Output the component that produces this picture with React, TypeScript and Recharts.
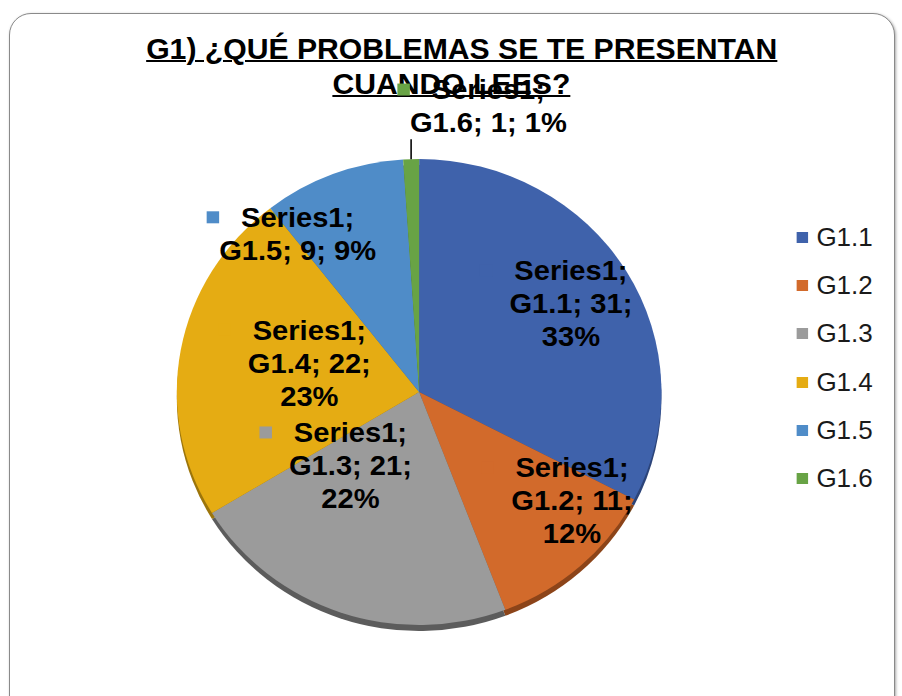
import { PieChart, Pie, Cell, Legend } from "recharts";

const categories = ["G1.1", "G1.2", "G1.3", "G1.4", "G1.5", "G1.6"];
const counts = [31, 11, 21, 22, 9, 1];
const seriesName = "Series1";

const colors = ["#3f62ab", "#d26a2b", "#9b9b9b", "#e5ac13", "#4f8cc8", "#68a345"];
const shadowColors = ["#2c4479", "#8c4419", "#5c5c5c", "#9c750b", "#355f88", "#476f2e"];

// label placement: [radius fraction, angle shift in degrees], and whether % goes on its own line
const labelPlace: [number, number][] = [
  [0.733, 0],
  [0.783, 12],
  [0.424, -23],
  [0.47, -5],
  [0.844, 15.6],
  [1.26, -15],
];
const percentOwnLine = [true, true, true, true, false, false];

const data = categories.map((name, i) => ({ name, value: counts[i] }));

const RAD = Math.PI / 180;
const FONT = "'Liberation Sans', Arial, sans-serif";

const renderLabel = (p: any) => {
  const { cx, cy, midAngle, outerRadius, index, value, name, percent } = p;
  const [k, shift] = labelPlace[index];
  const a = -(midAngle + shift) * RAD;
  const x = cx + outerRadius * k * Math.cos(a);
  const y = cy + outerRadius * k * Math.sin(a);
  const pct = Math.round(percent * 100);
  const lines = percentOwnLine[index]
    ? [`${seriesName};`, `${name}; ${value};`, `${pct}%`]
    : [`${seriesName};`, `${name}; ${value}; ${pct}%`];
  const lh = 33;
  const firstY = y - ((lines.length - 1) / 2) * lh;
  const w0 = 28 * 3.891;
  let leader = null;
  if (index === 5) {
    const m = -midAngle * RAD;
    const lx = cx + outerRadius * Math.cos(m);
    const ly = cy + outerRadius * Math.sin(m);
    leader = <line x1={lx} y1={ly} x2={lx} y2={ly - 20} stroke="#000" strokeWidth={1.5} />;
  }
  return (
    <g key={`lbl-${index}`}>
      {leader}
      <rect x={x - w0 / 2 - 33} y={firstY - 6} width={12} height={12} fill={colors[index]} />
      {lines.map((t, i) => (
        <text
          key={i}
          x={x}
          y={firstY + i * lh}
          textAnchor="middle"
          dominantBaseline="central"
          fontFamily={FONT}
          fontWeight="bold"
          fontSize={28}
          fill="#000"
        >
          {t}
        </text>
      ))}
    </g>
  );
};

const renderLegend = (props: any) => {
  const payload = (props.payload || []).filter((e: any) => colors.includes(e.color));
  return (
    <div>
      {payload.map((e: any, i: number) => (
        <div
          key={i}
          style={{ height: 48.3, display: "flex", alignItems: "center", fontFamily: FONT, fontSize: 25, color: "#1a1a1a" }}
        >
          <span style={{ width: 11, height: 11, background: e.color, marginRight: 8, display: "inline-block" }} />
          {e.value}
        </div>
      ))}
    </div>
  );
};

export default function App() {
  return (
    <div style={{ position: "absolute", left: 0, top: 0, width: 902, height: 696, overflow: "hidden", background: "#fff" }}>
      <div
        style={{
          position: "absolute",
          left: 9,
          top: 13,
          width: 884,
          height: 720,
          border: "1.5px solid #8a8a8a",
          borderRadius: 22,
          boxShadow: "1px 1px 3px rgba(0,0,0,0.35)",
          background: "#fff",
        }}
      />
      <div style={{ position: "absolute", left: 0, top: 0, width: 867, height: 696, transform: "scaleX(1.04)", transformOrigin: "0 0" }}>
        <div
          style={{
            position: "absolute",
            left: 0,
            width: 888,
            top: 32,
            lineHeight: "35px",
            textAlign: "center",
            fontFamily: FONT,
            fontWeight: "bold",
            fontSize: 29,
            color: "#000",
          }}
        >
          <span style={{ textDecoration: "underline", textDecorationThickness: 2 }}>G1) ¿QUÉ PROBLEMAS SE TE PRESENTAN</span>
        </div>
        <div
          style={{
            position: "absolute",
            left: 0,
            width: 868,
            top: 67,
            lineHeight: "35px",
            textAlign: "center",
            fontFamily: FONT,
            fontWeight: "bold",
            fontSize: 29,
            color: "#000",
          }}
        >
          <span style={{ textDecoration: "underline", textDecorationThickness: 2 }}>CUANDO LEES?</span>
        </div>
        <div style={{ position: "absolute", left: 0, top: 0 }}>
          <PieChart width={867} height={696}>
            <Pie
              data={data}
              dataKey="value"
              nameKey="name"
              cx={398}
              cy={393}
              outerRadius={233}
              startAngle={90}
              endAngle={-270}
              stroke="none"
              isAnimationActive={false}
              legendType="none"
            >
              {data.map((d, i) => (
                <Cell key={d.name} fill={shadowColors[i]} />
              ))}
            </Pie>
            <Pie
              data={data}
              dataKey="value"
              nameKey="name"
              cx={398}
              cy={387}
              outerRadius={233}
              startAngle={90}
              endAngle={-270}
              stroke="none"
              isAnimationActive={false}
              label={renderLabel}
              labelLine={false}
            >
              {data.map((d, i) => (
                <Cell key={d.name} fill={colors[i]} />
              ))}
            </Pie>
            <Legend
              layout="vertical"
              align="right"
              verticalAlign="middle"
              content={renderLegend}
              wrapperStyle={{ left: 766, top: 213, width: 100, right: "auto", bottom: "auto" }}
            />
          </PieChart>
        </div>
      </div>
    </div>
  );
}
